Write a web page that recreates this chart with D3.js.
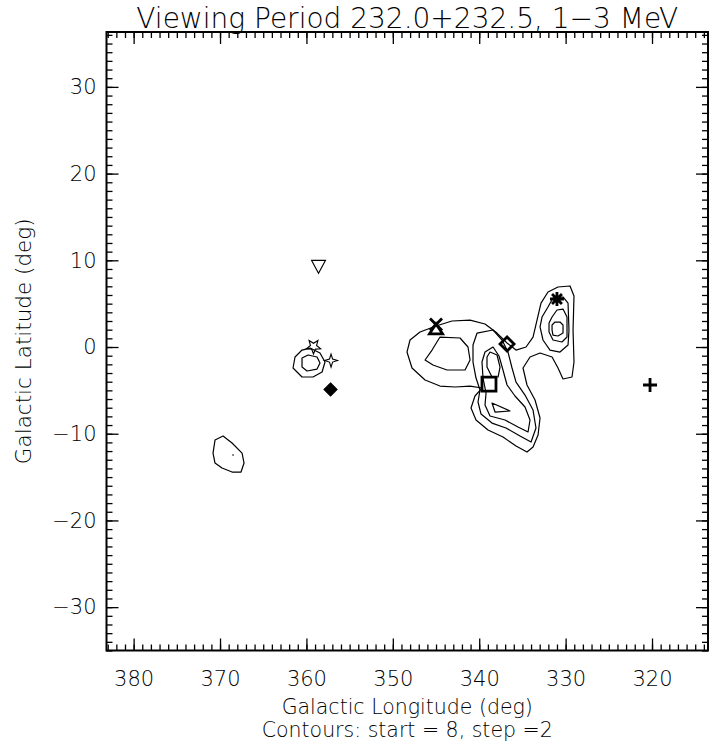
<!DOCTYPE html>
<html lang="en">
<head>
<meta charset="UTF-8">
<title>Viewing Period 232.0+232.5</title>
<style>
  body { margin: 0; background: #fff; }
  text { font-family: "DejaVu Sans", sans-serif; font-weight: 200; fill: #000; }
</style>
<script src="https://d3js.org/d3.v7.min.js"></script>
</head>
<body>
<script>
// axis ranges and ticks (deg)
const lonRange = [383.14, 313.52];
const latRange = [-35.0, 36.33];
const lonMajor = [380, 370, 360, 350, 340, 330, 320];
const latMajor = [-30, -20, -10, 0, 10, 20, 30];

// contour lines as [lon, lat]
const contourOuter = [[345.0,2.42],[343.15,3.0],[341.06,3.11],[339.33,2.65],[337.94,1.61],[336.78,0.46],[335.74,-0.35],[334.58,0],[333.77,1.15],[333.31,3.11],[332.85,5.07],[332.04,6.34],[330.88,6.92],[329.49,7.04],[329.03,5.88],[329.14,1.96],[329.03,-1.73],[329.26,-3.46],[330.30,-3.69],[330.88,-2.42],[331.57,-1.15],[332.96,-0.69],[334.12,-1.15],[334.93,-2.42],[334.47,-4.38],[333.54,-6.11],[332.96,-8.19],[333.19,-10.15],[333.77,-11.53],[334.47,-12.11],[335.74,-11.42],[337.25,-10.38],[338.98,-9.57],[340.37,-8.42],[340.95,-7.04],[340.49,-5.65],[339.68,-4.73],[341.06,-4.50],[342.80,-4.61],[344.54,-4.50],[346.27,-3.81],[347.78,-2.42],[348.36,-0.58],[348.01,0.81],[346.85,1.73]];
const contourLeftLobe = [[344.54,1.15],[342.22,1.04],[341.30,0],[341.06,-1.50],[341.64,-2.65],[343.73,-2.65],[345.35,-2.08],[346.27,-1.50],[345.46,-0.35]];
const contourCentre10 = [[340.25,1.61],[338.40,1.96],[337.36,0.81],[336.67,-0.58],[336.20,-2.42],[335.74,-4.04],[334.70,-5.54],[333.77,-7.27],[333.43,-9.34],[334.0,-10.96],[335.28,-10.27],[336.90,-9.34],[338.52,-8.77],[339.79,-7.73],[340.14,-6.34],[339.91,-4.96],[340.37,-3.58],[340.72,-1.73],[340.72,0.23]];
const contourCentre12 = [[339.33,-0.58],[338.40,0],[337.71,-1.04],[337.25,-2.65],[336.78,-4.38],[335.86,-5.65],[334.70,-6.92],[334.12,-8.42],[334.35,-9.80],[335.51,-9.23],[337.01,-8.42],[338.75,-7.96],[339.33,-6.69],[339.21,-5.31],[339.56,-3.58],[339.68,-1.73]];
const contourCentre14 = [[338.75,-0.58],[337.94,-0.92],[337.59,-2.31],[337.82,-3.46],[338.52,-3.46],[339.10,-2.31],[339.10,-1.15]];
const contourWedge = [[338.52,-6.46],[336.44,-7.38],[338.17,-7.50]];
const contourRight10 = [[332.04,4.61],[331.46,5.65],[330.30,5.77],[329.72,5.07],[329.61,1.96],[329.72,0.23],[330.65,-0.58],[331.81,-0.35],[332.62,0.81],[332.96,2.31],[332.73,3.46]];
const contourRight12 = [[331.57,3.46],[331.0,4.27],[330.30,4.38],[329.84,3.46],[329.84,1.15],[330.42,0.58],[331.46,0.81],[331.92,1.73],[331.92,2.77]];
const contourRight14 = [[331.57,2.54],[331.23,2.88],[330.65,2.88],[330.30,2.54],[330.30,1.61],[330.88,1.27],[331.46,1.38],[331.57,1.96]];
const contourSmallOuter = [[361.32,-1.15],[360.51,-0.35],[359.58,-0.12],[358.43,-0.69],[357.85,-1.73],[358.19,-2.88],[359.24,-3.46],[360.51,-3.46],[361.55,-2.42]];
const contourSmallInner = [[360.51,-1.27],[359.81,-0.92],[358.77,-1.15],[358.43,-1.85],[358.77,-2.54],[359.93,-2.77],[360.51,-2.31]];
const contourFar = [[370.58,-10.73],[369.65,-10.27],[368.61,-11.07],[367.45,-12.23],[367.22,-13.38],[367.57,-14.42],[368.61,-14.42],[369.77,-13.96],[370.58,-13.38],[370.81,-12.23]];
const contourDot = [[368.52,-12.44],[368.48,-12.44],[368.48,-12.48]];
const contours = [contourOuter, contourLeftLobe, contourCentre10, contourCentre12, contourCentre14,
  contourWedge, contourRight10, contourRight12, contourRight14, contourSmallOuter,
  contourSmallInner, contourFar, contourDot];

// source symbols
const srcType = ["asterisk", "triangle", "cross", "diamond", "square", "plus", "triangleDown", "diamondFilled", "star4", "star5"];
const srcLon  = [331.0, 345.0, 345.0, 336.78, 338.87, 320.23, 358.6, 357.21, 357.15, 359.18];
const srcLat  = [5.54, 2.1, 2.6, 0.35, -4.27, -4.38, 9.3, -4.90, -1.56, 0.06];

const title = "Viewing Period 232.0+232.5, 1\u22123 MeV";
const xTitle = "Galactic Longitude (deg)";
const yTitle = "Galactic Latitude (deg)";
const note = "Contours: start = 8, step =2";

const width = 710, height = 742;
const pLeft = 106.5, pRight = 708, pTop = 32, pBottom = 650.5;

const svg = d3.select("body").append("svg")
  .attr("width", width)
  .attr("height", height);

const x = d3.scaleLinear().domain(lonRange).range([pLeft, pRight]);
const y = d3.scaleLinear().domain(latRange).range([pBottom, pTop]);

const lonMinor = d3.range(314, 384, 1);
const latMinor = d3.range(-35, 37, 1);

function styleAxis(g) {
  g.selectAll(".domain").remove();
  g.selectAll("line").attr("stroke", "#000").attr("stroke-width", 1.3);
  g.selectAll("text").attr("font-size", 21).attr("font-family", "DejaVu Sans");
}

// minor ticks (inside, all four sides)
svg.append("g").attr("transform", `translate(0,${pBottom})`)
  .call(d3.axisBottom(x).tickValues(lonMinor).tickSize(-6).tickFormat("")).call(styleAxis);
svg.append("g").attr("transform", `translate(0,${pTop})`)
  .call(d3.axisTop(x).tickValues(lonMinor).tickSize(-6).tickFormat("")).call(styleAxis);
svg.append("g").attr("transform", `translate(${pLeft},0)`)
  .call(d3.axisLeft(y).tickValues(latMinor).tickSize(-6).tickFormat("")).call(styleAxis);
svg.append("g").attr("transform", `translate(${pRight},0)`)
  .call(d3.axisRight(y).tickValues(latMinor).tickSize(-6).tickFormat("")).call(styleAxis);

// major ticks with labels
svg.append("g").attr("transform", `translate(0,${pBottom})`)
  .call(d3.axisBottom(x).tickValues(lonMajor).tickSize(-12).tickPadding(21).tickFormat(d3.format("d")))
  .call(styleAxis);
svg.append("g").attr("transform", `translate(0,${pTop})`)
  .call(d3.axisTop(x).tickValues(lonMajor).tickSize(-12).tickFormat("")).call(styleAxis);
svg.append("g").attr("transform", `translate(${pLeft},0)`)
  .call(d3.axisLeft(y).tickValues(latMajor).tickSize(-12).tickPadding(10).tickFormat(d3.format("d")))
  .call(styleAxis);
svg.append("g").attr("transform", `translate(${pRight},0)`)
  .call(d3.axisRight(y).tickValues(latMajor).tickSize(-12).tickFormat("")).call(styleAxis);

// frame
svg.append("rect")
  .attr("x", pLeft).attr("y", pTop)
  .attr("width", pRight - pLeft).attr("height", pBottom - pTop)
  .attr("fill", "none").attr("stroke", "#000").attr("stroke-width", 2);

// contours
const line = d3.line().x(d => x(d[0])).y(d => y(d[1])).curve(d3.curveLinearClosed);
svg.append("g").selectAll("path")
  .data(contours)
  .join("path")
  .attr("d", line)
  .attr("fill", "none")
  .attr("stroke", "#000")
  .attr("stroke-width", 1.2)
  .attr("stroke-linejoin", "round");

// symbol shapes in pixels around a centre
function symbolPath(t) {
  const p = d3.path();
  if (t === "asterisk") {
    const r = 7;
    for (let a = 0; a < 4; a++) {
      const ang = a * Math.PI / 4;
      p.moveTo(-r * Math.cos(ang), -r * Math.sin(ang));
      p.lineTo(r * Math.cos(ang), r * Math.sin(ang));
    }
  } else if (t === "plus") {
    p.moveTo(-7, 0); p.lineTo(7, 0); p.moveTo(0, -7); p.lineTo(0, 7);
  } else if (t === "cross") {
    p.moveTo(-6, -6); p.lineTo(6, 6); p.moveTo(6, -6); p.lineTo(-6, 6);
  } else if (t === "square") {
    p.rect(-7, -7, 14, 14);
  } else if (t === "diamond" || t === "diamondFilled") {
    const r = t === "diamond" ? 7 : 6.5;
    p.moveTo(0, -r); p.lineTo(r, 0); p.lineTo(0, r); p.lineTo(-r, 0); p.closePath();
  } else if (t === "triangle") {
    p.moveTo(0, -5); p.lineTo(6.5, 5); p.lineTo(-6.5, 5); p.closePath();
  } else if (t === "triangleDown") {
    p.moveTo(-7, -6); p.lineTo(7, -6); p.lineTo(0, 7); p.closePath();
  } else if (t === "star4") {
    const ro = 6.5, ri = 2.2;
    for (let i = 0; i < 8; i++) {
      const a = -Math.PI / 2 + i * Math.PI / 4;
      const r = i % 2 === 0 ? ro : ri;
      if (i === 0) p.moveTo(r * Math.cos(a), r * Math.sin(a));
      else p.lineTo(r * Math.cos(a), r * Math.sin(a));
    }
    p.closePath();
  } else if (t === "star5") {
    const ro = 7.5, ri = 3.2;
    for (let i = 0; i < 10; i++) {
      const a = Math.PI / 2 + i * Math.PI / 5;
      const r = i % 2 === 0 ? ro : ri;
      if (i === 0) p.moveTo(r * Math.cos(a), r * Math.sin(a));
      else p.lineTo(r * Math.cos(a), r * Math.sin(a));
    }
    p.closePath();
  }
  return p.toString();
}

const bold = new Set(["asterisk", "plus", "cross", "square", "diamond", "triangle"]);
svg.append("g").selectAll("path")
  .data(d3.range(srcType.length))
  .join("path")
  .attr("transform", i => `translate(${x(srcLon[i])},${y(srcLat[i])})`)
  .attr("d", i => symbolPath(srcType[i]))
  .attr("fill", i => srcType[i] === "diamondFilled" ? "#000" : "none")
  .attr("stroke", "#000")
  .attr("stroke-width", i => bold.has(srcType[i]) ? 2.8 : 1.1)
  .attr("stroke-linejoin", "miter");

// titles
const cx = (pLeft + pRight) / 2;
svg.append("text").attr("x", cx).attr("y", 28)
  .attr("text-anchor", "middle").attr("font-size", 28).text(title);
svg.append("text").attr("x", cx).attr("y", 714)
  .attr("text-anchor", "middle").attr("font-size", 20.5).text(xTitle);
svg.append("text").attr("x", cx).attr("y", 737)
  .attr("text-anchor", "middle").attr("font-size", 20.5).text(note);
svg.append("text")
  .attr("transform", `translate(31,${(pTop + pBottom) / 2}) rotate(-90)`)
  .attr("text-anchor", "middle").attr("font-size", 21.5).text(yTitle);
</script>
</body>
</html>
